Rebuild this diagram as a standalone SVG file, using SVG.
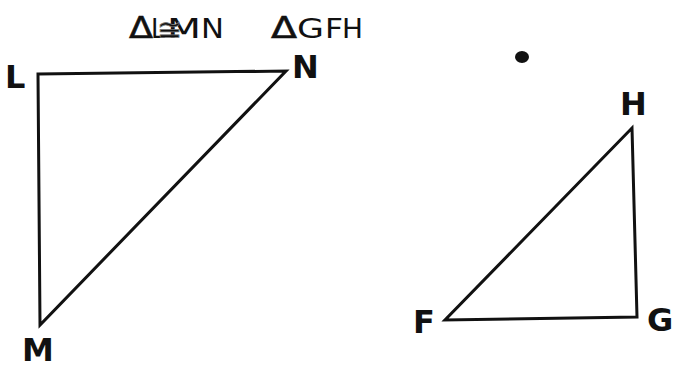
<svg xmlns="http://www.w3.org/2000/svg" width="677" height="367" viewBox="0 0 677 367">
<style>
.edge{fill:none;stroke:#111;stroke-width:3;stroke-linejoin:miter}
.lbl{font-family:"DejaVu Sans","Liberation Sans",sans-serif;font-weight:bold;font-size:32px;fill:#111}
.title{font-family:"DejaVu Sans","Liberation Sans",sans-serif;font-size:26px;fill:#111}
.delta{font-family:"DejaVu Sans","Liberation Sans",sans-serif;font-size:30px;fill:#111;stroke:#111;stroke-width:0.6}
</style>
<rect width="677" height="367" fill="#fff"/>
<g id="title">
<text class="delta" x="129" y="38" textLength="24" lengthAdjust="spacingAndGlyphs">Δ</text>
<text class="title" x="151" y="38" textLength="14" lengthAdjust="spacingAndGlyphs">L</text>
<text class="title" x="167" y="38" textLength="34" lengthAdjust="spacingAndGlyphs">M</text>
<text class="title" x="201" y="38" textLength="23" lengthAdjust="spacingAndGlyphs">N</text>
<text class="title" x="157" y="40" style="font-size:30px" fill="none" stroke="#777" stroke-width="0.8">≅</text>
<text class="delta" x="271" y="38" textLength="26" lengthAdjust="spacingAndGlyphs">Δ</text>
<text class="title" x="297" y="38" textLength="27" lengthAdjust="spacingAndGlyphs">G</text>
<text class="title" x="325" y="38" textLength="18" lengthAdjust="spacingAndGlyphs">F</text>
<text class="title" x="342" y="38" textLength="21" lengthAdjust="spacingAndGlyphs">H</text>
</g>
<g id="connectors">
<path class="edge" d="M38,74 L286,71 L40,325 Z"/>
<path class="edge" d="M632,128 L637,317 L445,320 Z"/>
</g>
<g id="node-L"><text class="lbl" x="5" y="88">L</text></g>
<g id="node-N"><text class="lbl" x="292" y="78">N</text></g>
<g id="node-M"><text class="lbl" x="22" y="361">M</text></g>
<g id="node-H"><text class="lbl" x="620" y="115">H</text></g>
<g id="node-F"><text class="lbl" x="413" y="333">F</text></g>
<g id="node-G"><text class="lbl" x="647" y="331">G</text></g>
<ellipse cx="522" cy="57" rx="7" ry="6" fill="#111"/>
</svg>
